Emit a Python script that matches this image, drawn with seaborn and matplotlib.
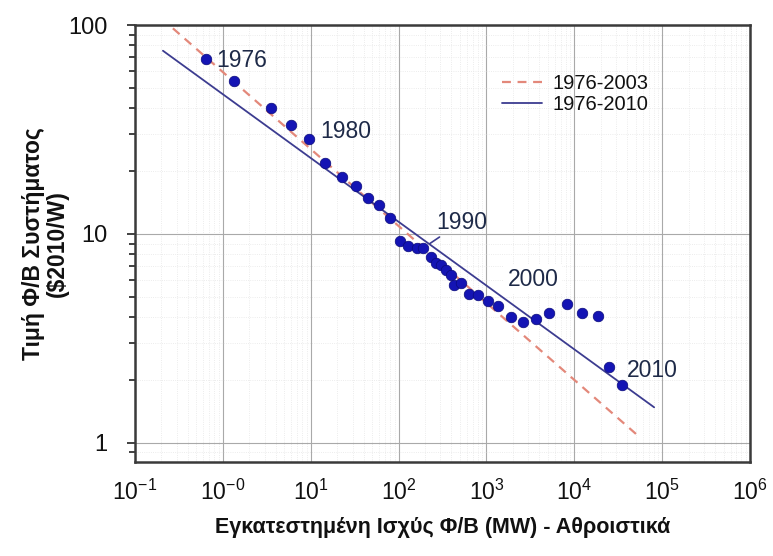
import numpy as np
import pandas as pd
import seaborn as sns
import matplotlib
matplotlib.use("Agg")
import matplotlib.pyplot as plt
from matplotlib.ticker import LogLocator, NullFormatter

# ---------------- data ----------------
years = list(range(1976, 2011))
capacity_mw = [0.64, 1.34, 3.57, 5.93, 9.5, 14.7, 22.7, 33, 44.4, 59.7,
               79, 102.6, 127.6, 161, 189, 235, 268, 305, 348, 397,
               433, 515, 641, 797, 1035, 1346, 1907, 2587, 3664, 5200,
               8180, 12200, 18400, 25000, 34800]
price_usd_w = [68.5, 53.7, 40.2, 33.2, 28.5, 21.8, 18.7, 17.0, 14.8, 13.7,
               11.9, 9.29, 8.79, 8.54, 8.54, 7.79, 7.29, 7.11, 6.73, 6.37,
               5.70, 5.85, 5.14, 5.11, 4.75, 4.52, 3.99, 3.78, 3.91, 4.17,
               4.62, 4.17, 4.03, 2.32, 1.90]

# experience-curve fit lines (end points)
fit_2003_x = [0.27, 54800]
fit_2003_y = [96.4, 1.07]
fit_2010_x = [0.208, 81100]
fit_2010_y = [75.3, 1.48]

x_ticks = [1e-1, 1e0, 1e1, 1e2, 1e3, 1e4, 1e5, 1e6]
x_tick_labels = ["$10^{-1}$", "$10^{-0}$", "$10^{1}$", "$10^{2}$",
                 "$10^{3}$", "$10^{4}$", "$10^{5}$", "$10^{6}$"]
y_ticks = [1, 10, 100]
y_tick_labels = ["1", "10", "100"]

labelled_years = [1976, 1980, 1990, 2000, 2010]

# ---------------- style ----------------
sns.set_style("white")
plt.rcParams["font.family"] = ["Liberation Sans", "DejaVu Sans"]
plt.rcParams["mathtext.default"] = "regular"

fig = plt.figure(figsize=(7.73, 5.56), dpi=100)
ax = fig.add_axes([135 / 773, 1 - 462 / 556, 615 / 773, 437 / 556])
ax.set_xscale("log")
ax.set_yscale("log")

df = pd.DataFrame({"year": years, "capacity": capacity_mw, "price": price_usd_w})

sns.lineplot(x=fit_2003_x, y=fit_2003_y, ax=ax, color="#e3887a",
             linestyle=(0, (4, 3)), linewidth=1.6, label="1976-2003", zorder=2)
sns.lineplot(x=fit_2010_x, y=fit_2010_y, ax=ax, color="#3c3c90",
             linewidth=1.3, label="1976-2010", zorder=2)
sns.scatterplot(data=df, x="capacity", y="price", ax=ax, color="#1414b4",
                s=58, edgecolor="#0a0a7a", linewidth=0.5, zorder=3, legend=False)

ax.set_xlim(1e-1, 1e6)
ax.set_ylim(0.81, 100)

# grid
ax.xaxis.set_minor_locator(LogLocator(base=10, subs=np.arange(2, 10)))
ax.yaxis.set_minor_locator(LogLocator(base=10, subs=np.arange(2, 10)))
ax.xaxis.set_minor_formatter(NullFormatter())
ax.yaxis.set_minor_formatter(NullFormatter())
ax.grid(True, which="major", color="#a9a9a9", linewidth=0.8)
ax.grid(True, which="minor", color="#e6e6e6", linewidth=0.6, linestyle=":")
ax.set_axisbelow(True)

ax.set_xticks(x_ticks, labels=x_tick_labels)
ax.set_yticks(y_ticks, labels=y_tick_labels)
ax.tick_params(axis="x", which="both", length=0, pad=13, labelsize=16.5,
               labelcolor="#111111")
ax.tick_params(axis="y", which="major", left=True, length=6, width=1.3,
               direction="out", pad=14, labelsize=17, color="#333333",
               labelcolor="#111111")
ax.tick_params(axis="y", which="minor", left=True, length=4, width=1.3,
               direction="out", color="#333333")

for sp in ax.spines.values():
    sp.set_color("#3a3a3a")
    sp.set_linewidth(1.8)

ax.set_xlabel("Εγκατεστημένη Ισχύς Φ/Β (MW) - Αθροιστικά", fontsize=15.5,
              fontweight="bold", color="#111111")
ax.set_ylabel("Τιμή Φ/Β Συστήματος\n($2010/W)", fontsize=16.5,
              fontweight="bold", color="#111111", linespacing=1.05)
ax.xaxis.set_label_coords(0.5, -0.125)
ax.yaxis.set_label_coords(-0.108, 0.5)

# legend
leg = ax.legend(loc="upper left", bbox_to_anchor=(0.597, 0.887), frameon=False,
                fontsize=14.5, handlelength=2.0, handletextpad=0.5,
                labelspacing=0.08, borderaxespad=0, borderpad=0)
for t in leg.get_texts():
    t.set_color("#111111")

# year annotations
ann_color = "#1e2a48"
offsets = {1976: (10, -1), 1980: (11, 7), 1990: (13, 26), 2000: (20, 22), 2010: (5, 14)}
for yr in labelled_years:
    i = years.index(yr)
    kw = {}
    if yr == 1990:
        kw["arrowprops"] = dict(arrowstyle="-", color="#3c3c90", lw=1.2,
                                shrinkA=0, shrinkB=6, relpos=(0.2, 0.05))
    if yr == 2000:
        kw["bbox"] = dict(boxstyle="square,pad=0.15", fc="white", ec="none")
    ax.annotate(str(yr), xy=(capacity_mw[i], price_usd_w[i]),
                xytext=offsets[yr], textcoords="offset pixels",
                ha="left", va="center", fontsize=16.5, color=ann_color,
                zorder=5, **kw)

fig.savefig("out.png", dpi=100)
